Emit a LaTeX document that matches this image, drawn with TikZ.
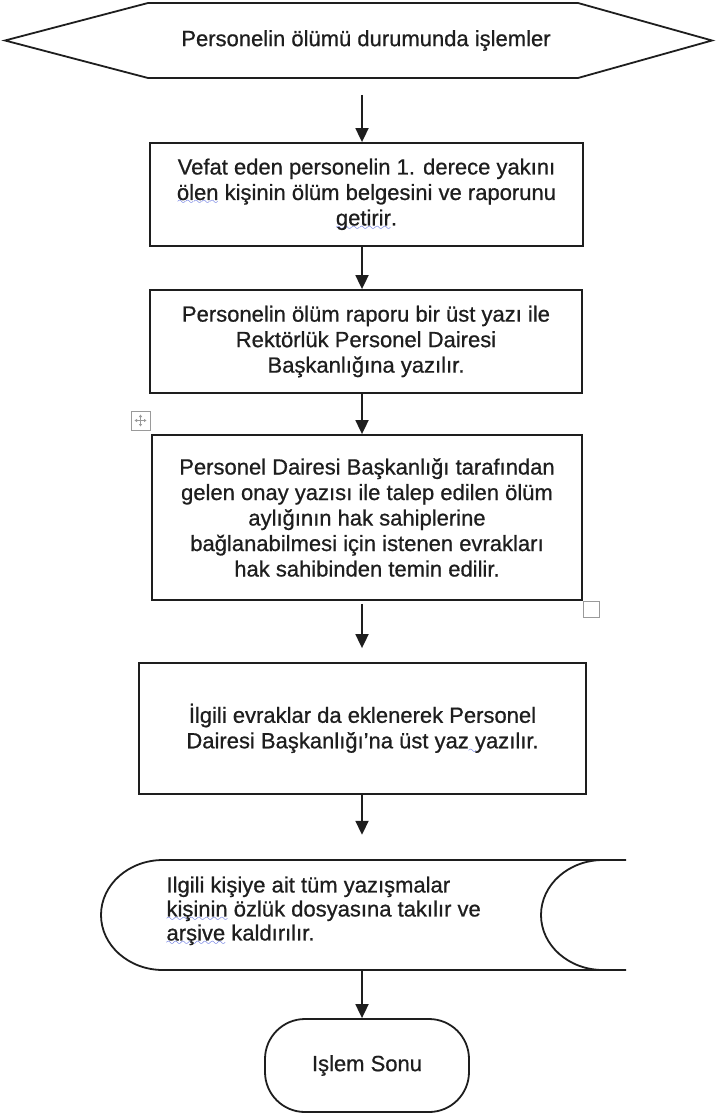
\documentclass[tikz,border=0pt]{standalone}
\usepackage{fontspec}
\setmainfont{Liberation Sans}
\newfontfamily\heavy{Liberation Sans}[FakeBold=0.7]
\usetikzlibrary{arrows.meta}
\definecolor{ink}{HTML}{1E1E1E}
\definecolor{spell}{HTML}{3A4FD8}
\definecolor{handle}{HTML}{9A9A9A}
\font\spwavefont=lasy10 at 11pt \relax
\newsavebox\spbox
\newcommand\spwave[1]{\sbox\spbox{#1}\rlap{\textcolor{spell}{\lower5pt\hbox to\wd\spbox{\xleaders\hbox{\spwavefont\char58}\hfill}}}\usebox\spbox}
\newcommand\spmark{\rlap{\textcolor{spell}{\lower5pt\hbox{\spwavefont\char58}}}}
\tikzset{
  txt/.style={font=\heavy\fontsize{22}{25.5}\selectfont, text=ink},
  box/.style={txt, draw=ink, line width=1.8pt, fill=white, align=center, inner sep=0pt},
  shapeline/.style={draw=ink, line width=1.8pt},
  arr/.style={draw=ink, line width=1.8pt, -{Triangle[width=13pt,length=14pt]}},
  handlebox/.style={draw=handle, line width=1pt, fill=white},
}
\begin{document}
\begin{tikzpicture}[x=1pt,y=-1pt]
\useasboundingbox (0,0) rectangle (716,1115);
\coordinate (xa) at (362,0);
% start hexagon
\draw[shapeline, fill=white] (5,40.5) -- (148,3) -- (578,3) -- (712,40.5) -- (578,78) -- (148,78) -- cycle;
\node[txt, minimum width=707pt, minimum height=75pt] (hex) at (366,40.5) {Personelin ölümü durumunda işlemler};
\coordinate (a1) at (362,95);
% boxes
\node[box, minimum width=433pt, minimum height=103pt] (b1) at (366.5,194.5)
  {Vefat eden personelin 1. derece yakını\\ \spwave{ölen} kişinin ölüm belgesini ve raporunu\\ \spwave{getirir}.};
\node[box, minimum width=432pt, minimum height=103pt] (b2) at (366,341.5)
  {Personelin ölüm raporu bir üst yazı ile\\ Rektörlük Personel Dairesi\\ Başkanlığına yazılır.};
\node[box, minimum width=430pt, minimum height=165pt] (b3) at (367,517.5)
  {Personel Dairesi Başkanlığı tarafından\\ gelen onay yazısı ile talep edilen ölüm\\ aylığının hak sahiplerine\\ bağlanabilmesi için istenen evrakları\\ hak sahibinden temin edilir.};
\node[box, minimum width=447pt, minimum height=131pt] (b4) at (362.5,728.5)
  {İlgili evraklar da eklenerek Personel\\ Dairesi Başkanlığı’na üst yaz\spmark\ yazılır.};
% stored data shape
\node[minimum width=525pt, minimum height=110pt, inner sep=0pt] (b5) at (363.5,915) {};
\fill[white] (163,860) -- (626,860) -- (626,970) -- (163,970) .. controls (128.8,970) and (101,945.4) .. (101,915) .. controls (101,884.6) and (128.8,860) .. (163,860) -- cycle;
\draw[shapeline] (626,860) -- (163,860) .. controls (128.8,860) and (101,884.6) .. (101,915) .. controls (101,945.4) and (128.8,970) .. (163,970) -- (626,970);
\draw[shapeline] (603,860) .. controls (568.8,860) and (541,884.6) .. (541,915) .. controls (541,945.4) and (568.8,970) .. (603,970);
\node[txt, anchor=west, align=left, font=\heavy\fontsize{22}{24}\selectfont] (b5t) at (163,911)
  {Ilgili kişiye ait tüm yazışmalar\\ \spwave{kişinin} özlük dosyasına takılır ve\\ \spwave{arşive} kaldırılır.};
% terminal
\node[box, rounded corners=40pt, minimum width=204pt, minimum height=93pt] (t) at (367,1065.5) {Işlem Sonu};
% table handles
\draw[handlebox] (131,411) rectangle (150,430);
\draw[handle, line width=0.8pt, {Triangle[width=3pt,length=2.5pt]}-{Triangle[width=3pt,length=2.5pt]}] (134.5,420.5) -- (146.5,420.5);
\draw[handle, line width=0.8pt, {Triangle[width=3pt,length=2.5pt]}-{Triangle[width=3pt,length=2.5pt]}] (140.5,414.5) -- (140.5,426.5);
\draw[handlebox] (583,601) rectangle (599,617);
% connectors
\draw[arr] (a1) -- (b1.north -| xa);
\draw[arr] (b1.south -| xa) -- (b2.north -| xa);
\draw[arr] (b2.south -| xa) -- (b3.north -| xa);
\draw[arr] ([yshift=-3pt]b3.south -| xa) -- ([yshift=14pt]b4.north -| xa);
\draw[arr] (b4.south -| xa) -- ([yshift=25pt]b5.north -| xa);
\draw[arr] (b5.south -| xa) -- (t.north -| xa);
\end{tikzpicture}
\end{document}
